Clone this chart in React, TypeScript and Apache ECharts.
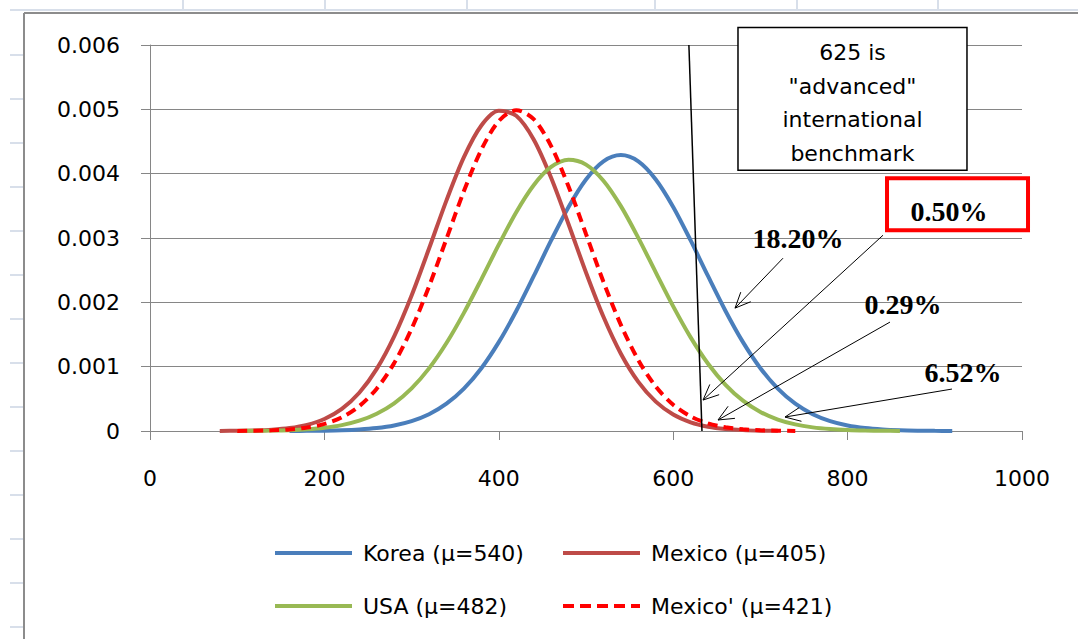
import React, { useEffect, useRef } from "react";
import * as echarts from "echarts";

// Score grid (x) shared by all four curves
const scores = [
  80, 100, 120, 140, 160, 180, 200, 220, 240, 260, 280, 300, 320, 340, 360, 380, 400, 420, 440, 460, 480,
  500, 520, 540, 560, 580, 600, 620, 640, 660, 680, 700, 720, 740, 760, 780, 800, 820, 840, 860, 880, 900,
  920, 940,
];

// Density values (null = curve not drawn there)
const korea = [
  null, null, null, null,
  0.000001, 0.0000024, 0.0000054, 0.0000115, 0.0000236, 0.0000461, 0.0000861, 0.000154, 0.000261, 0.000425,
  0.000659, 0.000976, 0.001381, 0.001866, 0.002406, 0.002962, 0.003483, 0.00391, 0.004191, 0.004289,
  0.004191, 0.00391, 0.003483, 0.002962, 0.002406, 0.001866, 0.001381, 0.000976, 0.000659, 0.000425,
  0.000261, 0.000154, 0.0000861, 0.0000461, 0.0000236, 0.0000115, 0.0000054, 0.0000024, 0.000001,
  null,
];
const mexico = [
  0.0000013, 0.0000035, 0.0000087, 0.0000207, 0.0000458, 0.0000955, 0.000187, 0.000344, 0.000594, 0.000965,
  0.001471, 0.002107, 0.002836, 0.003585, 0.004257, 0.004749, 0.004977, 0.0049, 0.004532, 0.003937,
  0.003214, 0.002464, 0.001775, 0.001201, 0.000763, 0.000456, 0.000256, 0.000135, 0.0000667, 0.000031,
  0.0000136, 0.0000055, 0.0000021,
  null, null, null, null, null, null, null, null, null, null, null,
];
const usa = [
  null,
  0.0000012, 0.0000028, 0.0000061, 0.0000129, 0.0000258, 0.0000496, 0.0000911, 0.00016, 0.000269, 0.000431,
  0.000663, 0.000973, 0.001367, 0.001836, 0.002358, 0.002896, 0.003402, 0.003821, 0.004104, 0.004216,
  0.004141, 0.00389, 0.003495, 0.003002, 0.002466, 0.001937, 0.001455, 0.001045, 0.000718, 0.000472,
  0.000296, 0.000178, 0.0001023, 0.0000562, 0.0000295, 0.0000148, 0.0000071, 0.0000033, 0.0000014,
  null, null, null, null,
];
const mexicoAlt = [
  null,
  0.0000016, 0.0000042, 0.0000104, 0.0000243, 0.0000534, 0.00011, 0.000212, 0.000386, 0.000658, 0.001055,
  0.001589, 0.002248, 0.002987, 0.003729, 0.004373, 0.004818, 0.004987, 0.004848, 0.004429, 0.0038,
  0.003062, 0.002319, 0.00165, 0.001102, 0.000692, 0.000408, 0.000226, 0.000118, 0.0000575, 0.0000264,
  0.0000114, 0.0000046, 0.0000018,
  null, null, null, null, null, null, null, null, null, null,
];

const seriesNames = ["Korea (\u03bc=540)", "Mexico (\u03bc=405)", "USA (\u03bc=482)", "Mexico' (\u03bc=421)"];
const seriesColors = ["#4A7EBB", "#BE4B48", "#98B954", "#FF0000"];

// Annotations (data coordinates)
const benchmarkLine = [[618, 0.006], [633, 0]];
const noteLines = ["625 is", '"advanced"', "international", "benchmark"];
const noteBox = [[674.3, 0.006273], [936.9, 0.004053]];
const callouts = [
  { label: "18.20%", at: [743.1, 0.002997], from: [725.9, 0.002686], to: [670.9, 0.00191] },
  { label: "0.50%", at: [916.3, 0.003416], from: [840.6, 0.003043], to: [634.2, 0.000481] },
  { label: "0.29%", at: [863.5, 0.001972], from: [848.6, 0.001693], to: [651.4, 0.000171] },
  { label: "6.52%", at: [932.3, 0.000916], from: [919.7, 0.000652], to: [728.2, 0.000217] },
];
const highlightBox = [[845.2, 0.003928], [1006.9, 0.003121]];

const SANS = "'DejaVu Sans', sans-serif";
const SERIF = "'Liberation Serif', serif";

const SOLID_ICON = "path://M0,0h77v4h-77z";
const DASH_ICON = "path://M0,0h11v4h-11z M17,0h11v4h-11z M34,0h11v4h-11z M51,0h11v4h-11z M68,0h9v4h-9z";

export default function App() {
  const ref = useRef<HTMLDivElement>(null);

  useEffect(() => {
    const chart = echarts.init(ref.current!, null, { renderer: "svg" });
    const pairs = (ys: (number | null)[]) =>
      scores.map((x, i) => [x, ys[i]]).filter((p) => p[1] !== null);
    const allData = [korea, mexico, usa, mexicoAlt];

    const legendPos = [
      [275, 542],
      [563, 542],
      [275, 595],
      [563, 595],
    ];

    chart.setOption({
      animation: false,
      backgroundColor: "#ffffff",
      grid: { left: 150, right: 56, top: 45, bottom: 208, containLabel: false },
      xAxis: {
        type: "value",
        min: 0,
        max: 1000,
        interval: 200,
        axisLine: { show: true, lineStyle: { color: "#868686", width: 1 } },
        axisTick: { show: true, length: 9, lineStyle: { color: "#868686" } },
        splitLine: { show: false },
        axisLabel: {
          margin: 36,
          fontFamily: SANS,
          fontSize: 22,
          color: "#000",
          formatter: (v: number) => String(v),
        },
      },
      yAxis: {
        type: "value",
        min: 0,
        max: 0.006,
        interval: 0.001,
        axisLine: { show: true, lineStyle: { color: "#868686", width: 1 } },
        axisTick: { show: true, length: 9, lineStyle: { color: "#868686" } },
        splitLine: { show: true, lineStyle: { color: "#868686", width: 1 } },
        axisLabel: {
          margin: 30,
          fontFamily: SANS,
          fontSize: 22,
          color: "#000",
          formatter: (v: number) => (v === 0 ? "0" : v.toFixed(3)),
        },
      },
      legend: legendPos.map((p, i) => ({
        data: [{ name: seriesNames[i], icon: i === 3 ? DASH_ICON : SOLID_ICON }],
        left: p[0],
        top: p[1],
        padding: 0,
        itemWidth: 77,
        itemHeight: 4,
        selectedMode: false,
        itemStyle: { color: seriesColors[i], borderWidth: 0 },
        textStyle: { fontFamily: SANS, fontSize: 22, color: "#000", padding: [0, 0, 0, 6] },
      })),
      series: allData.map((d, i) => ({
        type: "line",
        name: seriesNames[i],
        data: pairs(d),
        symbol: "none",
        showSymbol: false,
        smooth: 0.3,
        color: seriesColors[i],
        lineStyle: {
          color: seriesColors[i],
          width: 4,
          type: i === 3 ? [10, 6] : "solid",
        },
        z: 2 + i,
      })),
    });

    const px = (p: number[]) => chart.convertToPixel({ gridIndex: 0 }, p) as number[];
    const g: any[] = [];

    // spreadsheet background marks and chart frame
    const light = "#d8dfea";
    g.push({ type: "line", shape: { x1: 10, y1: 10, x2: 1078, y2: 10 }, style: { stroke: light, lineWidth: 2 } });
    [183, 325, 467, 655, 797, 938].forEach((x) =>
      g.push({ type: "line", shape: { x1: x, y1: 0, x2: x, y2: 10 }, style: { stroke: light, lineWidth: 2 } })
    );
    for (let y = 55; y < 639; y += 44) {
      g.push({ type: "line", shape: { x1: 10, y1: y, x2: 24, y2: y }, style: { stroke: light, lineWidth: 2 } });
    }
    g.push({ type: "line", shape: { x1: 24, y1: 13, x2: 1078, y2: 13 }, style: { stroke: "#8c8c8c", lineWidth: 2 } });
    g.push({ type: "line", shape: { x1: 24, y1: 13, x2: 24, y2: 639 }, style: { stroke: "#8c8c8c", lineWidth: 2 } });

    // benchmark vertical line
    const b0 = px(benchmarkLine[0]);
    const b1 = px(benchmarkLine[1]);
    g.push({
      type: "line",
      z: 50,
      shape: { x1: b0[0], y1: b0[1], x2: b1[0], y2: b1[1] },
      style: { stroke: "#000", lineWidth: 1.5 },
    });

    // note box
    const n0 = px(noteBox[0]);
    const n1 = px(noteBox[1]);
    g.push({
      type: "rect",
      z: 50,
      shape: { x: n0[0], y: n0[1], width: n1[0] - n0[0], height: n1[1] - n0[1] },
      style: { fill: "#fff", stroke: "#000", lineWidth: 1.5 },
    });
    noteLines.forEach((t, i) =>
      g.push({
        type: "text",
        z: 51,
        x: (n0[0] + n1[0]) / 2,
        y: n0[1] + 25 + i * 33.7,
        style: {
          text: t,
          fontFamily: SANS,
          fontSize: 22,
          fill: "#000",
          align: "center",
          verticalAlign: "middle",
          textAlign: "center",
          textVerticalAlign: "middle",
        },
      })
    );

    // highlight box around 0.50%
    const h0 = px(highlightBox[0]);
    const h1 = px(highlightBox[1]);
    g.push({
      type: "rect",
      z: 50,
      shape: { x: h0[0], y: h0[1], width: h1[0] - h0[0], height: h1[1] - h0[1] },
      style: { fill: "none", stroke: "#FF0000", lineWidth: 4 },
    });

    // callouts with open arrows
    callouts.forEach((c) => {
      const a = px(c.at);
      const f = px(c.from);
      const t = px(c.to);
      g.push({
        type: "text",
        z: 52,
        x: a[0],
        y: a[1],
        style: {
          text: c.label,
          fontFamily: SERIF,
          fontWeight: "bold",
          fontSize: 28,
          fill: "#000",
          align: "center",
          verticalAlign: "middle",
          textAlign: "center",
          textVerticalAlign: "middle",
        },
      });
      g.push({
        type: "line",
        z: 52,
        shape: { x1: f[0], y1: f[1], x2: t[0], y2: t[1] },
        style: { stroke: "#000", lineWidth: 1 },
      });
      const ang = Math.atan2(f[1] - t[1], f[0] - t[0]);
      const len = 17;
      const spread = 0.42;
      g.push({
        type: "polyline",
        z: 52,
        shape: {
          points: [
            [t[0] + len * Math.cos(ang + spread), t[1] + len * Math.sin(ang + spread)],
            [t[0], t[1]],
            [t[0] + len * Math.cos(ang - spread), t[1] + len * Math.sin(ang - spread)],
          ],
        },
        style: { stroke: "#000", lineWidth: 1, fill: "none" },
      });
    });

    chart.setOption({ graphic: { elements: g } });

    return () => chart.dispose();
  }, []);

  return (
    <div
      ref={ref}
      style={{ position: "fixed", left: 0, top: 0, width: 1078, height: 639, background: "#fff" }}
    />
  );
}
